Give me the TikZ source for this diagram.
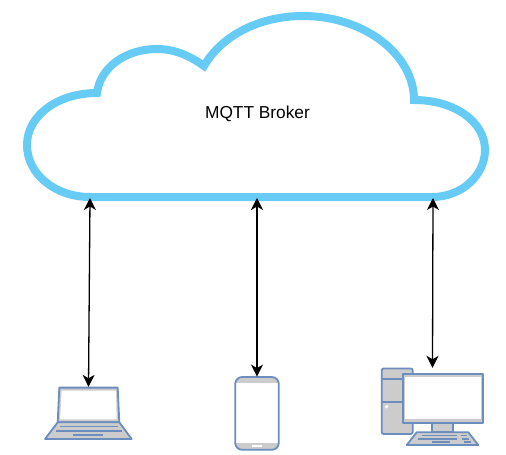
\documentclass[tikz,border=0pt]{standalone}
\usepackage{fontspec}
\setmainfont{Liberation Sans}
\usetikzlibrary{positioning}
\usetikzlibrary{arrows.meta}
\definecolor{cloudBlue}{HTML}{66CCF5}
\definecolor{iconBlue}{HTML}{6C8EBF}
\definecolor{iconGray}{HTML}{CCCCCC}
\tikzset{%
	% Specifications for style of nodes:
	iconBox/.style = {rectangle, inner sep=0pt},
	cloudLine/.style = {draw=cloudBlue, line width=8pt, fill=white, miter limit=4},
	iconPart/.style = {draw=iconBlue, line width=1.8pt, fill=iconGray, line join=round},
	iconKey/.style = {draw=iconBlue, line width=1.6pt},
	iconGlass/.style = {fill=white},
	link/.style = {black, line width=1.3pt, {Stealth[length=12pt,width=12pt,inset=3.5pt]}-{Stealth[length=12pt,width=12pt,inset=3.5pt]}}
}
\begin{document}
\begin{tikzpicture}[x=1pt, y=-1pt]
	\useasboundingbox (0,0) rectangle (506,455);
	\draw[cloudLine] (90,197) -- (432,197)
		.. controls (462,197) and (485,175) .. (485,150)
		.. controls (485,122) and (455,100) .. (414,100)
		.. controls (414,55) and (365,16) .. (303,16)
		.. controls (260,16) and (222,35) .. (204,66)
		.. controls (190,56) and (175,49) .. (157,49)
		.. controls (125,49) and (100,68) .. (97,93)
		.. controls (57,93) and (27,116) .. (27,145)
		.. controls (27,174) and (55,197) .. (90,197) -- cycle;
	\node (brokerLabel) [font=\fontsize{17.3pt}{20pt}\selectfont] at (257.5,114) {MQTT Broker};
	\coordinate (cloudLeft) at (90,198);
	\coordinate (cloudMiddle) at (257,198);
	\coordinate (cloudRight) at (433,198);
	\node (laptop) [iconBox, minimum width=87pt, minimum height=52pt] at (88.5,413) {};
	\node (phone) [iconBox, minimum width=44pt, minimum height=73.5pt] at (257,413.5) {};
	\node (desktop) [iconBox, minimum width=102pt, minimum height=77pt] at (432.5,406.5) {};
	% laptop
	\draw[iconPart] (59.3,387.6) -- (117.7,387.6) -- (119.3,422.3) -- (57.7,422.3) -- cycle;
	\fill[iconGlass] (61.7,390.7) -- (116,390.7) -- (116.7,419.3) -- (60,419.3) -- cycle;
	\draw[iconPart] (57.7,422.3) -- (119.3,422.3) -- (131.7,439) -- (45,439) -- cycle;
	\draw[iconKey] (60,426.3) -- (118.3,426.3);
	\draw[iconKey] (56,430.7) -- (122.3,430.7);
	\draw[iconKey] (72.7,434.7) -- (102.7,434.7);
	% phone
	\begin{scope}
		\clip[rounded corners=7pt] (235.2,377) rectangle (278.8,449.8);
		\fill[iconGray] (235.2,377) rectangle (278.8,383.3);
		\fill[iconGray] (235.2,442.7) rectangle (278.8,449.8);
	\end{scope}
	\fill[white] (252.3,445.3) rectangle (262.3,447);
	\draw[iconBlue, line width=1.8pt, rounded corners=7pt] (235.2,377) rectangle (278.8,449.8);
	% desktop
	\draw[iconPart, rounded corners=2pt] (381.7,368.5) rectangle (412.7,434);
	\draw[iconKey] (381.7,379) -- (412.7,379);
	\draw[iconKey] (381.7,401.7) -- (412.7,401.7);
	\fill[white] (386.7,406.7) circle (1.8pt);
	\draw[iconPart] (432.3,422.7) rectangle (453.3,432.3);
	\draw[iconPart] (402.6,374.2) rectangle (483.3,422.7);
	\fill[iconGlass] (405,376.7) rectangle (480.7,419.3);
	\draw[iconPart] (416.7,432.3) -- (468.3,432.3) -- (478.3,445) -- (406.7,445) -- cycle;
	\draw[iconKey] (421.7,435.3) -- (457.3,435.3);
	\draw[iconKey] (460.7,435.3) -- (466.7,435.3);
	\draw[iconKey] (418.3,439) -- (457.3,439);
	\draw[iconKey] (461.7,439) -- (469,439);
	\draw[iconKey] (431.7,442) -- (450,442);
	\draw[iconKey] (464,442) -- (470.7,442);
	% links
	\draw[link] (cloudLeft) -- (laptop.north);
	\draw[link] (cloudMiddle) -- (phone.north);
	\draw[link] (cloudRight) -- (desktop.north);
\end{tikzpicture}
\end{document}
